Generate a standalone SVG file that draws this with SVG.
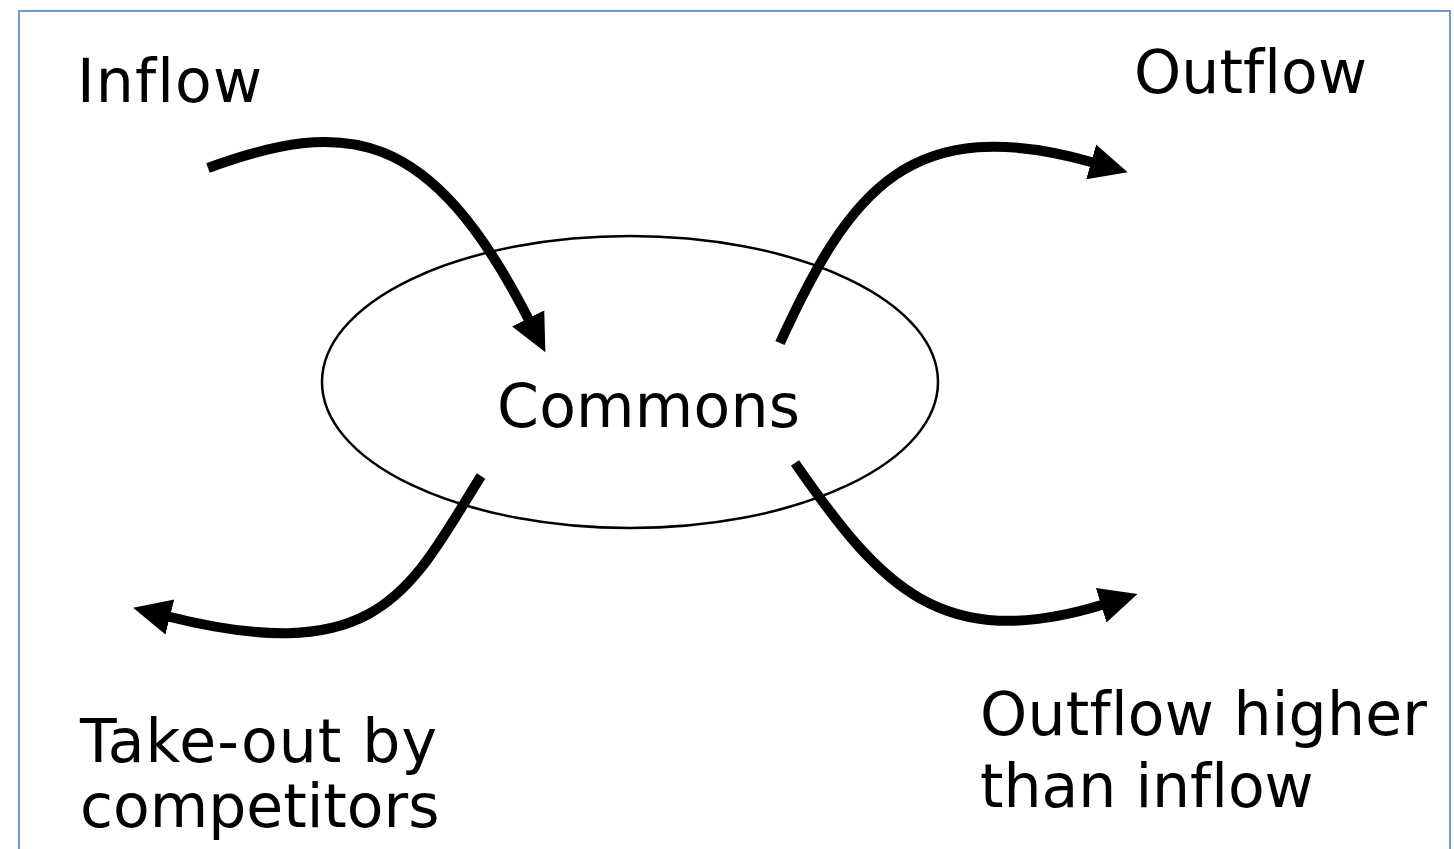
<svg xmlns="http://www.w3.org/2000/svg" width="1454" height="849" viewBox="0 0 1454 849">
<style>
.lbl{font-family:"DejaVu Sans","Verdana",sans-serif;font-size:60px;fill:#000;font-variant-ligatures:none;font-feature-settings:"liga" 0}
.arr{fill:none;stroke:#000;stroke-width:10;stroke-linecap:butt}
</style>
<defs>
<marker id="ah" markerUnits="userSpaceOnUse" markerWidth="40" markerHeight="40" viewBox="0 0 40 40" refX="4" refY="20" orient="auto">
<path d="M0,2 L38,20 L0,38 Z" fill="#000"/>
</marker>
</defs>
<rect x="0" y="0" width="1454" height="849" fill="#fff"/>
<rect x="19" y="11" width="1431" height="860" fill="none" stroke="#6a9ad8" stroke-width="2"/>
<g id="commons">
<ellipse cx="630" cy="382" rx="308" ry="146" fill="none" stroke="#000" stroke-width="2.5"/>
<text class="lbl" x="497" y="427" textLength="303">Commons</text>
</g>
<g id="inflow"><text class="lbl" x="77" y="102" textLength="185">Inflow</text></g>
<g id="outflow"><text class="lbl" x="1134" y="93" textLength="233">Outflow</text></g>
<g id="takeout"><text class="lbl" x="80" y="762" textLength="357">Take-out by</text><text class="lbl" x="80" y="827">competitors</text></g>
<g id="outflowhigher"><text class="lbl" x="980" y="735" textLength="447">Outflow higher</text><text class="lbl" x="980" y="807">than inflow</text></g>
<g id="connectors">
<path class="arr" d="M208,168 C345,118 430,125 530,322" marker-end="url(#ah)"/>
<path class="arr" d="M780,343 C850,190 910,110 1095,163" marker-end="url(#ah)"/>
<path class="arr" d="M481,476 C410,590 380,670 166,616" marker-end="url(#ah)"/>
<path class="arr" d="M795,463 C880,585 940,655 1105,604" marker-end="url(#ah)"/>
</g>
</svg>
